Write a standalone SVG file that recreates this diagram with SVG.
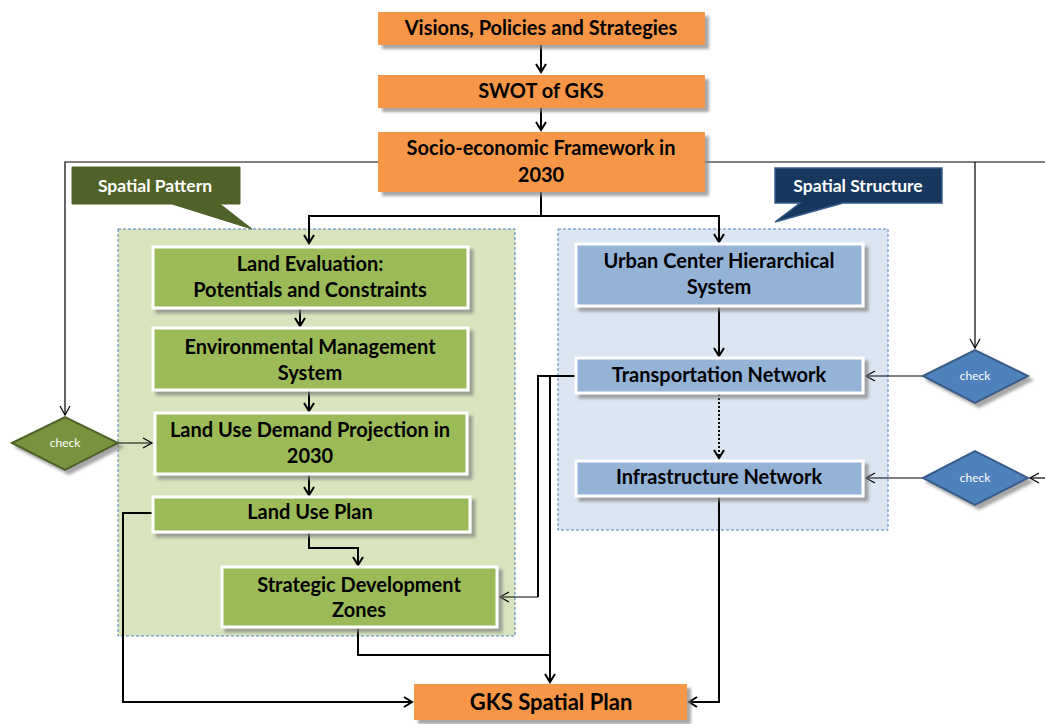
<svg xmlns="http://www.w3.org/2000/svg" width="1045" height="724" viewBox="0 0 1045 724">
<defs>
<filter id="sh" x="-10%" y="-20%" width="130%" height="160%">
<feOffset in="SourceAlpha" dx="4" dy="4" result="o"/>
<feGaussianBlur in="o" stdDeviation="1.5" result="b"/>
<feFlood flood-color="#808080" flood-opacity="0.7"/>
<feComposite in2="b" operator="in" result="s"/>
<feMerge><feMergeNode in="s"/><feMergeNode in="SourceGraphic"/></feMerge>
</filter>
<marker id="ah" markerUnits="userSpaceOnUse" markerWidth="14" markerHeight="14" refX="9" refY="6" orient="auto">
<path d="M1,1 L9,6 L1,11" fill="none" stroke="#000" stroke-width="2"/>
</marker>
<marker id="at" markerUnits="userSpaceOnUse" markerWidth="14" markerHeight="14" refX="10" refY="6" orient="auto">
<path d="M1,1 L10,6 L1,11" fill="none" stroke="#000" stroke-width="1.2"/>
</marker>
<style>
.t{font-family:Lato,"Open Sans","Liberation Sans",sans-serif;font-weight:bold;font-size:20px;fill:#000;text-anchor:middle}
.w{font-family:Lato,"Open Sans","Liberation Sans",sans-serif;font-weight:bold;font-size:17.5px;fill:#fff;text-anchor:middle}
.c{font-family:Lato,"Open Sans","Liberation Sans",sans-serif;font-size:12px;fill:#fff;text-anchor:middle}
.or{fill:#f79646;filter:url(#sh)}
.gb{fill:#9bbb59;stroke:#fff;stroke-width:3;filter:url(#sh)}
.bb{fill:#95b3d7;stroke:#fff;stroke-width:3;filter:url(#sh)}
.ln{fill:none;stroke:#000;stroke-width:2}
.th{fill:none;stroke:#000;stroke-width:1.2}
</style>
</defs>

<g id="spatial-pattern-area">
<rect x="118" y="229" width="397" height="407" fill="#d7e4bd" stroke="#4f81bd" stroke-width="1" stroke-dasharray="3,2"/>
</g>
<g id="spatial-structure-area">
<rect x="558" y="229" width="330" height="301" fill="#dce6f2" stroke="#4f81bd" stroke-width="1" stroke-dasharray="3,2"/>
</g>

<g id="spatial-pattern-callout">
<path d="M72,167 H240 V204 H220 L252,229 L172,204 H72 Z" fill="#4f6228" stroke="#4f6228" stroke-width="1"/>
<text class="w" x="155" y="192">Spatial Pattern</text>
</g>
<g id="spatial-structure-callout">
<path d="M775,168 H942 V203 H843 L775,222 L800,203 H775 Z" fill="#17375e" stroke="#385d8a" stroke-width="1.5"/>
<text class="w" x="858" y="192">Spatial Structure</text>
</g>

<g id="connectors">
<path class="ln" d="M541,45 V72" marker-end="url(#ah)"/>
<path class="ln" d="M541,108 V130" marker-end="url(#ah)"/>
<path class="ln" d="M541,192 V216 H309 V243" marker-end="url(#ah)"/>
<path class="ln" d="M541,216 H719 V242" marker-end="url(#ah)"/>
<path class="th" d="M378,162 H65 V415" marker-end="url(#at)"/>
<path class="th" d="M705,162 H1045"/>
<path class="th" d="M975,162 V348" marker-end="url(#at)"/>
<path class="th" d="M1045,478 H1030" marker-end="url(#at)"/>
<path class="th" d="M118,443 H152" marker-end="url(#at)" stroke="#444"/>
<path class="th" d="M923,376 H866" marker-end="url(#at)"/>
<path class="th" d="M923,478 H866" marker-end="url(#at)"/>
<path class="ln" d="M300,308 V326" marker-end="url(#ah)"/>
<path class="ln" d="M309,390 V411" marker-end="url(#ah)"/>
<path class="ln" d="M309,474 V495" marker-end="url(#ah)"/>
<path class="ln" d="M309,532 V548 H358 V565" marker-end="url(#ah)"/>
<path class="ln" d="M153,513 H123 V702 H412" marker-end="url(#ah)"/>
<path class="ln" d="M358,628 V655 H550"/>
<path class="ln" d="M576,376 H538 V597"/>
<path class="th" d="M538,597 H500" marker-end="url(#at)"/>
<path class="ln" d="M550,376 V682" marker-end="url(#ah)"/>
<path class="ln" d="M719,306 V356" marker-end="url(#ah)"/>
<path class="ln" d="M719,394 V458" stroke-dasharray="2,2" marker-end="url(#ah)"/>
<path class="ln" d="M719,497 V702 H689" marker-end="url(#ah)"/>
</g>

<g id="visions">
<rect class="or" x="378" y="12" width="327" height="33"/>
<text class="t" x="541" y="35">Visions, Policies and Strategies</text>
</g>
<g id="swot">
<rect class="or" x="378" y="75" width="327" height="33"/>
<text class="t" x="541" y="98">SWOT of GKS</text>
</g>
<g id="socio-economic">
<rect class="or" x="378" y="132" width="327" height="60"/>
<text class="t" x="541" y="155">Socio-economic Framework in</text>
<text class="t" x="541" y="182">2030</text>
</g>

<g id="land-evaluation">
<rect class="gb" x="153" y="247" width="315" height="61"/>
<text class="t" x="310" y="271">Land Evaluation:</text>
<text class="t" x="310" y="297">Potentials and Constraints</text>
</g>
<g id="environmental-management">
<rect class="gb" x="153" y="328" width="315" height="62"/>
<text class="t" x="310" y="354">Environmental Management</text>
<text class="t" x="310" y="380">System</text>
</g>
<g id="land-use-demand">
<rect class="gb" x="155" y="413" width="312" height="61"/>
<text class="t" x="310" y="437">Land Use Demand Projection in</text>
<text class="t" x="310" y="463">2030</text>
</g>
<g id="land-use-plan">
<rect class="gb" x="153" y="497" width="317" height="35"/>
<text class="t" x="310" y="519">Land Use Plan</text>
</g>
<g id="strategic-zones">
<rect class="gb" x="222" y="567" width="275" height="60"/>
<text class="t" x="359" y="592">Strategic Development</text>
<text class="t" x="359" y="617">Zones</text>
</g>

<g id="urban-center">
<rect class="bb" x="576" y="244" width="287" height="62"/>
<text class="t" x="719" y="268">Urban Center Hierarchical</text>
<text class="t" x="719" y="294">System</text>
</g>
<g id="transportation">
<rect class="bb" x="576" y="358" width="287" height="35"/>
<text class="t" x="719" y="382">Transportation Network</text>
</g>
<g id="infrastructure">
<rect class="bb" x="576" y="461" width="287" height="35"/>
<text class="t" x="719" y="484">Infrastructure Network</text>
</g>

<g id="check-left">
<path d="M12,443 L65,417 L118,443 L65,470 Z" fill="#77933c" stroke="#4f6228" stroke-width="2" filter="url(#sh)"/>
<text class="c" x="65" y="447">check</text>
</g>
<g id="check-transport">
<path d="M923,376 L975,350 L1028,376 L975,403 Z" fill="#4f81bd" stroke="#385d8a" stroke-width="2" filter="url(#sh)"/>
<text class="c" x="975" y="380">check</text>
</g>
<g id="check-infra">
<path d="M923,478 L975,451 L1028,478 L975,505 Z" fill="#4f81bd" stroke="#385d8a" stroke-width="2" filter="url(#sh)"/>
<text class="c" x="975" y="482">check</text>
</g>

<g id="gks-plan">
<rect class="or" x="414" y="684" width="273" height="36"/>
<text class="t" x="551" y="710" style="font-size:22px">GKS Spatial  Plan</text>
</g>
</svg>
